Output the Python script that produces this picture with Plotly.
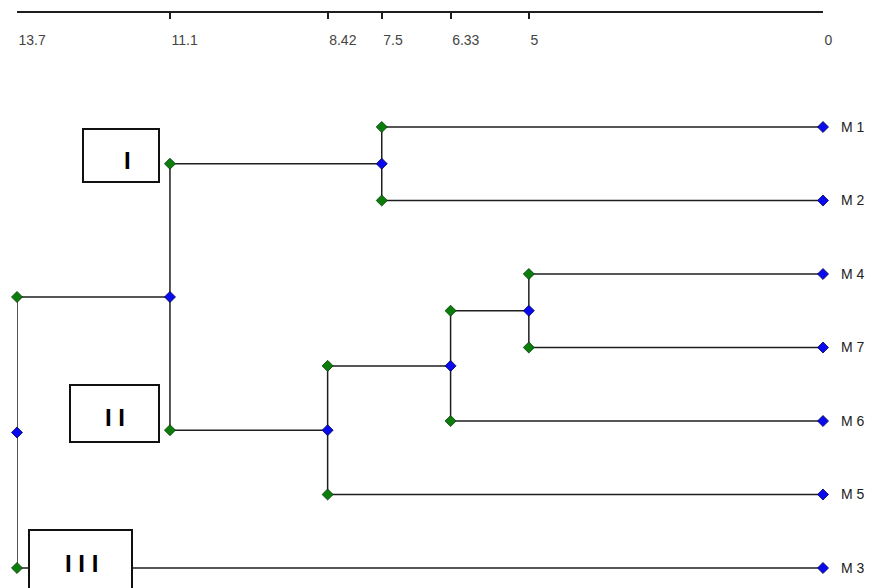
import plotly.graph_objects as go

# ---- data ----
leaves = ["M 1", "M 2", "M 4", "M 7", "M 6", "M 5", "M 3"]
# merges: (left child, right child, height)
merges = [
    ("M 1", "M 2", 7.5),
    ("M 4", "M 7", 5.0),
    ("C2", "M 6", 6.33),
    ("C3", "M 5", 8.42),
    ("C1", "C4", 11.1),
    ("C5", "M 3", 13.7),
]
tick_vals = [13.7, 11.1, 8.42, 7.5, 6.33, 5, 0]
tick_text = ["13.7", "11.1", "8.42", "7.5", "6.33", "5", "0"]
groups = ["I", "I I", "I I I"]

# ---- geometry of the tree ----
pos = {name: (0.0, float(i)) for i, name in enumerate(leaves)}
lx, ly = [], []
gx, gy = [], []
bx, by = [0.0] * len(leaves), [float(i) for i in range(len(leaves))]
for k, (a, b, h) in enumerate(merges, start=1):
    xa, ya = pos[a]
    xb, yb = pos[b]
    mid = (ya + yb) / 2
    lx += [xa, h, None, xb, h, None, h, h, None]
    ly += [ya, ya, None, yb, yb, None, ya, yb, None]
    gx += [h, h]
    gy += [ya, yb]
    bx.append(h)
    by.append(mid)
    pos["C%d" % k] = (h, mid)

# pixel helpers (layout only, page pixel coordinates)
X0PX, XSCALE = 823.0, 806.0 / 13.7
Y0PX, YSCALE = 127.0, 73.5


def px_x(p):
    return (X0PX - p) / XSCALE


def px_y(p):
    return (p - Y0PX) / YSCALE


fig = go.Figure()
fig.add_trace(go.Scatter(x=lx, y=ly, mode="lines",
                         line=dict(color="#1e1e1e", width=1.5),
                         hoverinfo="skip", showlegend=False, cliponaxis=False))
fig.add_trace(go.Scatter(x=gx, y=gy, mode="markers", cliponaxis=False,
                         marker=dict(symbol="diamond", size=8.5, color="#0b7d0b",
                                     line=dict(color="#0a3a0a", width=0.8)),
                         showlegend=False))
fig.add_trace(go.Scatter(x=bx, y=by, mode="markers", cliponaxis=False,
                         marker=dict(symbol="diamond", size=8.5, color="#0a0aee",
                                     line=dict(color="#05054a", width=0.8)),
                         showlegend=False))

# group boxes
boxes = [(83, 129, 159, 182, 127, 160),
         (70, 385, 159, 442, 115, 417),
         (29, 530, 132, 592, 81, 563)]
for label, (x1, y1, x2, y2, tx, ty) in zip(groups, boxes):
    fig.add_shape(type="rect", x0=px_x(x1), x1=px_x(x2), y0=px_y(y1), y1=px_y(y2),
                  xref="x", yref="y", line=dict(color="#111111", width=2),
                  fillcolor="white", layer="above")
    fig.add_annotation(x=px_x(tx), y=px_y(ty), xref="x", yref="y", text="<b>%s</b>" % label,
                       showarrow=False, font=dict(family="Liberation Sans", size=24, color="#000000"),
                       xanchor="center", yanchor="middle")

# the page body has an 8px margin, so the figure is sized/offset to compensate
fig.update_layout(
    width=867, height=580,
    margin=dict(l=9, r=52, t=5, b=0, autoexpand=False),
    paper_bgcolor="white", plot_bgcolor="white",
    font=dict(family="Liberation Sans", size=14, color="#222222"),
    xaxis=dict(side="top", range=[13.7, 0], tickvals=tick_vals, ticktext=tick_text,
               ticks="inside", ticklen=6, tickwidth=1.5, tickcolor="#1e1e1e",
               ticklabelposition="inside right", ticklabelstandoff=19,
               ticklabeloverflow="allow",
               showline=True, linecolor="#1e1e1e", linewidth=1.6,
               showgrid=False, zeroline=False, automargin=False),
    yaxis=dict(side="right", range=[px_y(588), px_y(13)], tickvals=list(range(len(leaves))),
               ticktext=leaves, ticks="", showline=False, showgrid=False, zeroline=False,
               ticklabelstandoff=17, automargin=False),
)
fig.write_html("out.html")
